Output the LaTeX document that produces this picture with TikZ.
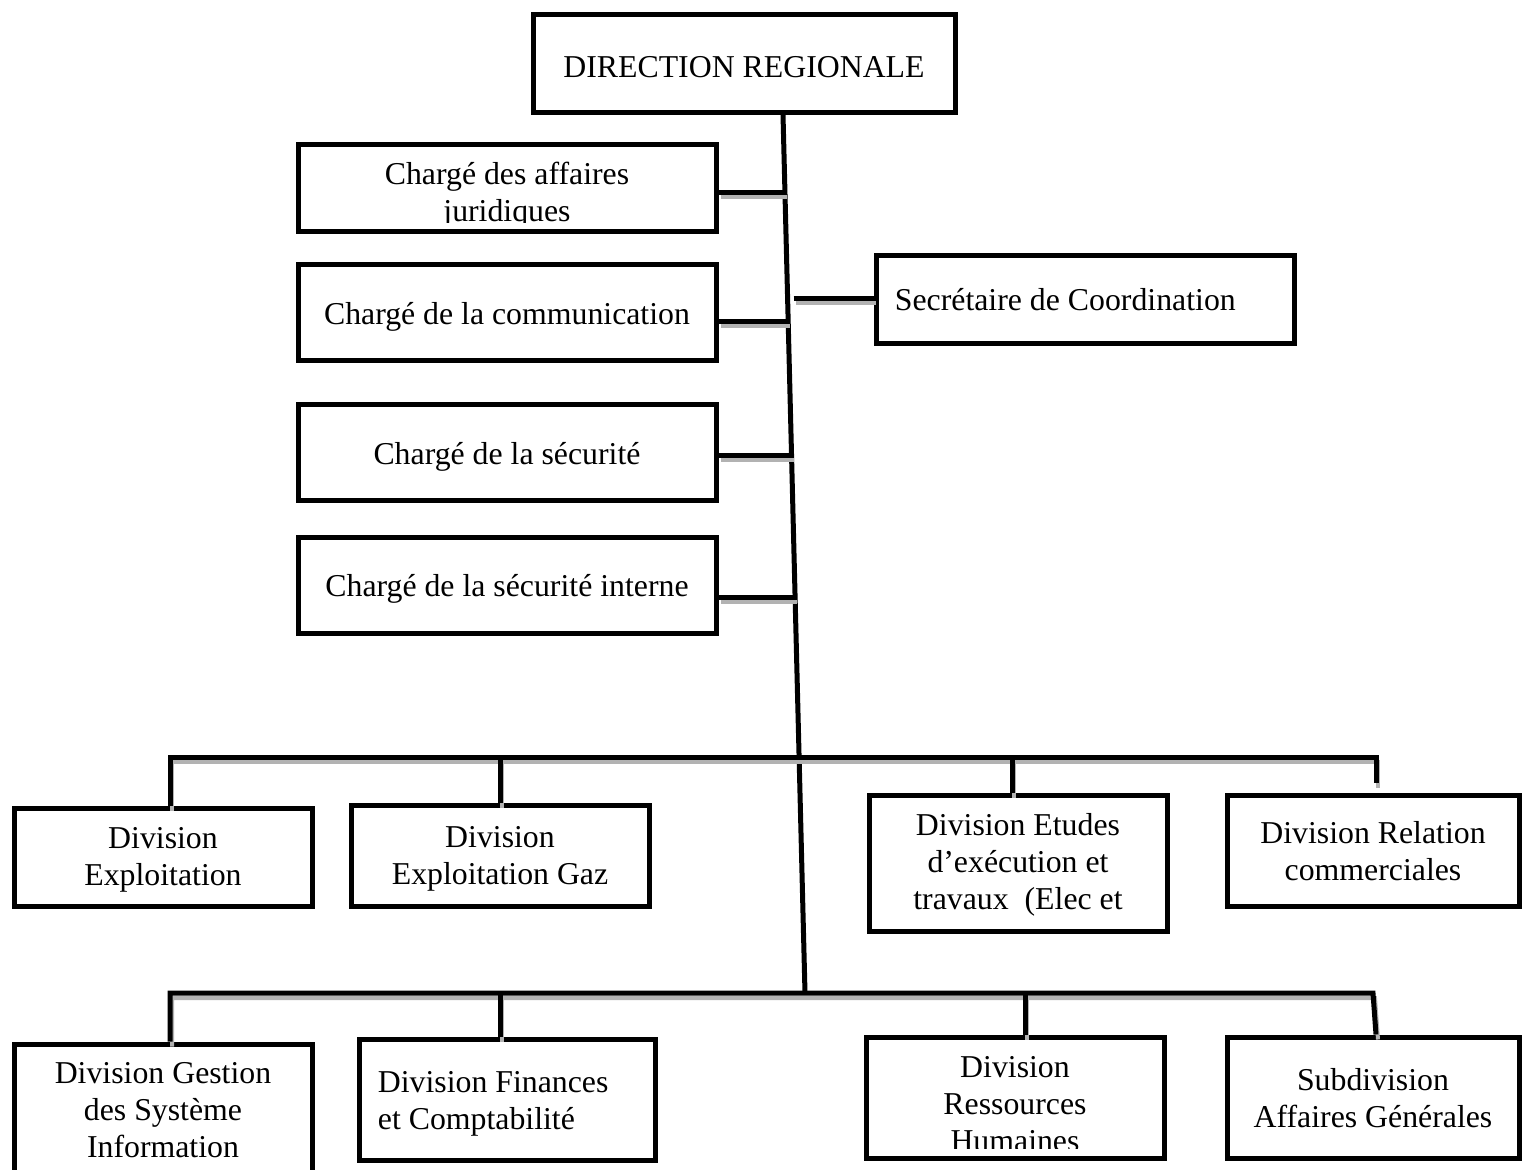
\documentclass[tikz,border=0pt]{standalone}
\usepackage{fontspec}
\setmainfont{Liberation Serif}
\usetikzlibrary{calc}
\newcommand\orgfont{\fontsize{15.9pt}{18.5pt}\selectfont}
\begin{document}
\begin{tikzpicture}[x=0.5pt,y=-0.5pt,
  box/.style={draw, line width=2.5pt, inner sep=0pt, align=center, font=\orgfont},
  txt/.style={draw=none, inner sep=0pt, font=\orgfont},
  tbox/.style n args={2}{box, path picture={\node[txt, align=center] at ([yshift=#1]path picture bounding box.center) {#2};}},
  cbox/.style n args={3}{box, path picture={\clip ([yshift=#3]path picture bounding box.south west) rectangle (path picture bounding box.north east);
    \node[txt, align=center] at ([yshift=#1]path picture bounding box.center) {#2};}},
  conn/.style={line width=2.5pt, preaction={draw=gray!60, line width=2pt, transform canvas={xshift=1pt,yshift=-2.5pt}}}
]
\useasboundingbox (0,0) rectangle (1522,1169);

% top
\node[tbox={-2pt}{DIRECTION REGIONALE}, minimum width=211pt, minimum height=49pt] (top) at (744,63) {};

% left staff boxes
\node[cbox={-3.75pt}{Chargé des affaires\\juridiques}{4.5pt}, minimum width=209pt, minimum height=43.5pt] (aff) at (507,187.5) {};
\node[tbox={-2.5pt}{Chargé de la communication}, minimum width=209pt, minimum height=48pt] (com) at (507,312) {};
\node[tbox={-2.5pt}{Chargé de la sécurité}, minimum width=209pt, minimum height=48pt] (sec) at (507,452) {};
\node[tbox={-2pt}{Chargé de la sécurité interne}, minimum width=209pt, minimum height=48pt] (sint) at (507,585) {};

% secretary
\node[box, minimum width=209pt, minimum height=44pt] (secr) at (1085,299) {};
\node[txt, anchor=west] (secrT) at ([xshift=10.5pt,yshift=-0.5pt]secr.west) {Secrétaire de Coordination};

% row 1
\node[tbox={-1.5pt}{Division\\Exploitation}, minimum width=149pt, minimum height=49pt] (r1a) at (163,857) {};
\node[tbox={-1.5pt}{Division\\Exploitation Gaz}, minimum width=149pt, minimum height=50.5pt] (r1b) at (500,855.5) {};
\node[tbox={-1pt}{Division Etudes\\d’exécution et\\travaux\ \ (Elec et}, minimum width=149pt, minimum height=68pt] (r1c) at (1018,863) {};
\node[tbox={-0.5pt}{Division Relation\\commerciales}, minimum width=146pt, minimum height=55.5pt] (r1d) at (1373,850.5) {};

% row 2
\node[tbox={1pt}{Division Gestion\\des Système\\Information}, minimum width=149pt, minimum height=68pt] (r2a) at (163,1112) {};
\node[box, minimum width=148pt, minimum height=60.5pt] (r2b) at (507,1099.5) {};
\node[txt, anchor=west, align=left] (r2bT) at ([xshift=10.5pt,yshift=-2.25pt]r2b.west) {Division Finances\\et Comptabilité};
\node[cbox={-3.5pt}{Division\\Ressources\\Humaines}{5pt}, minimum width=149pt, minimum height=60.5pt] (r2c) at (1015,1097.5) {};
\node[tbox={-0.5pt}{Subdivision\\Affaires Générales}, minimum width=146pt, minimum height=60.5pt] (r2d) at (1373,1097.5) {};

% trunk and junctions
\coordinate (t0) at ([xshift=19.5pt]top.south);
\coordinate (t1) at (805,993);
\coordinate (jA) at ($(t0)!0.0887!(t1)$);
\coordinate (jS) at ($(t0)!0.2093!(t1)$);
\coordinate (jB) at ($(t0)!0.2355!(t1)$);
\coordinate (jC) at ($(t0)!0.388!(t1)$);
\coordinate (jD) at ($(t0)!0.5495!(t1)$);
\coordinate (bus1) at ($(t0)!0.7315!(t1)$);
\coordinate (bus2) at (t1);

\draw[line width=2.5pt] (t0) -- (t1);

\draw[conn] (aff.east |- jA) -- (jA);
\draw[conn] (com.east |- jB) -- (jB);
\draw[conn] (sec.east |- jC) -- (jC);
\draw[conn] (sint.east |- jD) -- (jD);
\draw[conn] ([xshift=3pt]jS) -- (secr.west |- jS);

% upper bus
\draw[conn] ([xshift=3.5pt]r1a.north) -- ([xshift=3.5pt]r1a.north |- bus1) -- ([xshift=1.5pt]r1d.north |- bus1) -- ([xshift=1.5pt,yshift=5pt]r1d.north);
\draw[conn] (r1b.north |- bus1) -- (r1b.north);
\draw[conn] ([xshift=-3pt]r1c.north |- bus1) -- ([xshift=-3pt]r1c.north);

% lower bus
\draw[conn] ([xshift=3.5pt]r2a.north) -- ([xshift=3.5pt]r2a.north |- bus2) -- (r2d.north |- bus2) -- ([xshift=1.5pt]r2d.north);
\draw[conn] ([xshift=-3.5pt]r2b.north |- bus2) -- ([xshift=-3.5pt]r2b.north);
\draw[conn] ([xshift=5pt]r2c.north |- bus2) -- ([xshift=5pt]r2c.north);
\end{tikzpicture}
\end{document}
